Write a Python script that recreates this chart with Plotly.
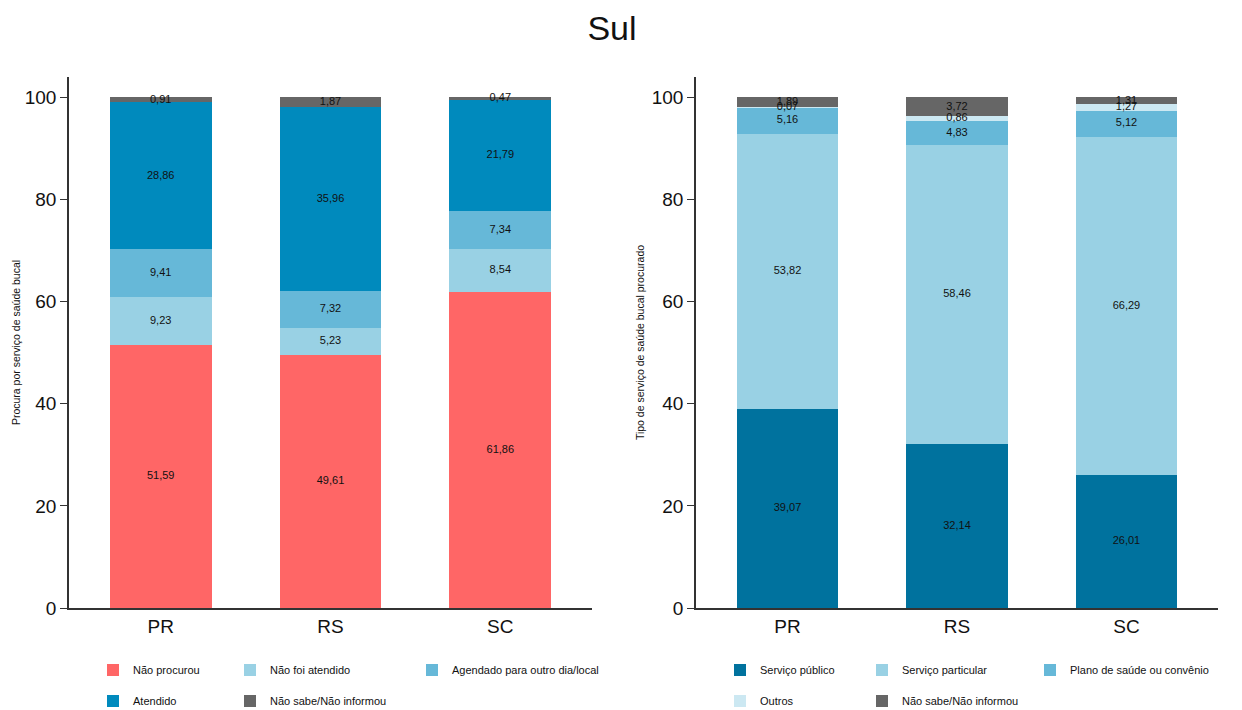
import plotly.graph_objects as go

# page body has an 8px default margin; figure is sized to the visible area
OFF = 8
W, H = 1242 - OFF, 710 - OFF

states = ["PR", "RS", "SC"]

# Left chart: Procura por serviço de saúde bucal
left_names = ["Não procurou", "Não foi atendido", "Agendado para outro dia/local", "Atendido", "Não sabe/Não informou"]
nao_procurou = [51.59, 49.61, 61.86]
nao_foi_atendido = [9.23, 5.23, 8.54]
agendado = [9.41, 7.32, 7.34]
atendido = [28.86, 35.96, 21.79]
nao_sabe_left = [0.91, 1.87, 0.47]
left_series = [nao_procurou, nao_foi_atendido, agendado, atendido, nao_sabe_left]
left_colors = ["#FF6666", "#99D1E4", "#66B8D8", "#008ABD", "#666666"]

# Right chart: Tipo de serviço de saúde bucal procurado
right_names = ["Serviço público", "Serviço particular", "Plano de saúde ou convênio", "Outros", "Não sabe/Não informou"]
servico_publico = [39.07, 32.14, 26.01]
servico_particular = [53.82, 58.46, 66.29]
plano = [5.16, 4.83, 5.12]
outros = [0.07, 0.86, 1.27]
nao_sabe_right = [1.89, 3.72, 1.31]
right_series = [servico_publico, servico_particular, plano, outros, nao_sabe_right]
right_colors = ["#00729E", "#99D1E4", "#66B8D8", "#CCE8F2", "#666666"]

yticks = [0, 20, 40, 60, 80, 100]

FONT = "Liberation Sans, Arial, sans-serif"


def fmt(v):
    return f"{v:.2f}".replace(".", ",")


def px_x(rx):
    return (rx - OFF) / W


def px_y(ry):
    return 1 - (ry - OFF) / H


fig = go.Figure()

# legend layout (reference px): text start x, row y centre
left_leg_pos = [(133, 670), (270, 670), (452, 670), (133, 701), (270, 701)]
right_leg_pos = [(760, 670), (902, 670), (1070, 670), (760, 701), (902, 701)]


def add_chart(series, names, colors, xa, ya, leg_start):
    for i, (vals, name, col) in enumerate(zip(series, names, colors)):
        n = leg_start + i
        lg = "legend" if n == 1 else f"legend{n}"
        fig.add_trace(go.Bar(
            x=states, y=vals, name=name, marker=dict(color=col, line=dict(width=0)),
            xaxis=xa, yaxis=ya, legend=lg, hoverinfo="name+y",
        ))
    xs, ys, ts = [], [], []
    for j, st in enumerate(states):
        base = 0.0
        for vals in series:
            v = vals[j]
            xs.append(st)
            ys.append(base + v / 2)
            ts.append(fmt(v))
            base += v
    fig.add_trace(go.Scatter(
        x=xs, y=ys, text=ts, mode="text", showlegend=False, hoverinfo="skip",
        textfont=dict(size=11, color="#111111", family=FONT),
        xaxis=xa, yaxis=ya, textposition="middle center",
    ))


add_chart(left_series, left_names, left_colors, "x", "y", 1)
add_chart(right_series, right_names, right_colors, "x2", "y2", 6)

ydom = [px_y(608), px_y(77)]
axis_common = dict(showgrid=False, zeroline=False, showline=True, linecolor="#333333", linewidth=1.5)
tickfont = dict(size=19, color="#111111", family=FONT)
ytitle_font = dict(size=10.5, color="#111111", family=FONT)

fig.update_layout(
    xaxis=dict(domain=[px_x(69), px_x(592)], anchor="y", range=[-0.54, 2.54], ticks="",
               tickfont=tickfont, **axis_common),
    yaxis=dict(domain=ydom, anchor="x", range=[0, 104], tickvals=yticks, ticks="outside", ticklen=7,
               tickcolor="#333333", tickfont=tickfont, automargin=True,
               title=dict(text="Procura por serviço de saúde bucal", font=ytitle_font, standoff=2),
               **axis_common),
    xaxis2=dict(domain=[px_x(696), px_x(1218)], anchor="y2", range=[-0.54, 2.54], ticks="",
                tickfont=tickfont, **axis_common),
    yaxis2=dict(domain=ydom, anchor="x2", range=[0, 104], tickvals=yticks, ticks="outside", ticklen=7,
                tickcolor="#333333", tickfont=tickfont, automargin=True,
                title=dict(text="Tipo de serviço de saúde bucal procurado", font=ytitle_font, standoff=5),
                **axis_common),
    barmode="stack",
    bargap=0.4,
    width=W, height=H,
    margin=dict(l=0, r=0, t=0, b=0, autoexpand=False),
    paper_bgcolor="white", plot_bgcolor="white",
    font=dict(family=FONT, color="#111111"),
    title=dict(text="Sul", x=px_x(612), xanchor="center", xref="paper", y=px_y(28), yanchor="middle",
               yref="container", font=dict(size=34, color="#111111", family=FONT)),
)

all_pos = left_leg_pos + right_leg_pos
for k, (rx, ry) in enumerate(all_pos):
    key = "legend" if k == 0 else f"legend{k + 1}"
    fig.update_layout({key: dict(
        x=px_x(rx - 40), y=px_y(ry), xanchor="left", yanchor="middle",
        orientation="v", font=dict(size=11, color="#111111", family=FONT),
        bgcolor="rgba(0,0,0,0)", borderwidth=0,
    )})

fig.write_html("out.html")
